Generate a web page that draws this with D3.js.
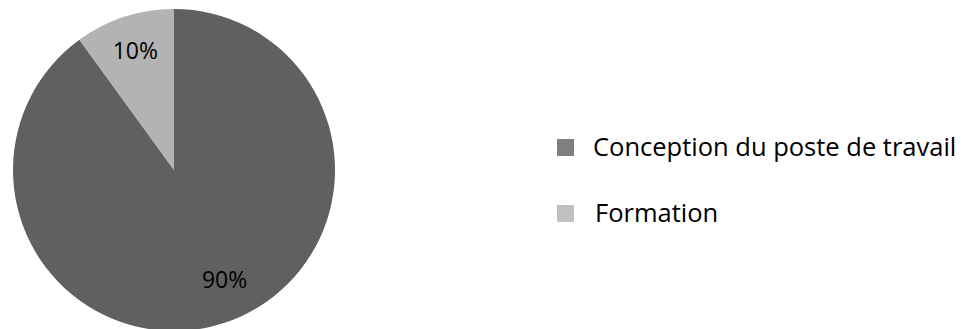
<!DOCTYPE html>
<html>
<head>
<meta charset="utf-8">
<script src="https://cdn.jsdelivr.net/npm/d3@7"></script>
<style>
  html, body { margin: 0; padding: 0; background: #fff; }
  svg { display: block; }
  text { font-family: "Open Sans", sans-serif; fill: #000; }
</style>
</head>
<body>
<svg id="chart" width="968" height="329"></svg>
<script>
// Share of measures by type
const categories = ["Conception du poste de travail", "Formation"];
const values = [90, 10];
const valueLabels = ["90%", "10%"];

const sliceColors = ["#606060", "#b3b3b3"];
const legendColors = ["#7f7f7f", "#c0c0c0"];

const svg = d3.select("#chart");
const cx = 174, cy = 170, radius = 161;

// Second slice starts at 12 o'clock and runs counter-clockwise,
// so lay the pie out clockwise starting from the first slice.
const pie = d3.pie().sort(null).value(d => d)
  .startAngle(0).endAngle(2 * Math.PI);
const arcs = pie(values);

const arc = d3.arc().innerRadius(0).outerRadius(radius);
const labelArc = d3.arc().innerRadius(125).outerRadius(125);

const g = svg.append("g").attr("transform", `translate(${cx},${cy})`);

g.selectAll("path.slice")
  .data(arcs)
  .join("path")
  .attr("class", "slice")
  .attr("d", arc)
  .attr("fill", (d, i) => sliceColors[i]);

// Per-label nudges (px) applied after the centroid placement
const labelNudge = [[12, -9], [0, 0]];

g.selectAll("text.val")
  .data(arcs)
  .join("text")
  .attr("class", "val")
  .attr("transform", (d, i) => {
    const [x, y] = labelArc.centroid(d);
    return `translate(${x + labelNudge[i][0]},${y + labelNudge[i][1]})`;
  })
  .attr("text-anchor", "middle")
  .attr("dy", "0.36em")
  .style("font-size", "23px")
  .text((d, i) => valueLabels[i]);

// Legend
const legendY = d3.scalePoint().domain(categories).range([147, 213]);
const legend = svg.append("g");
const items = legend.selectAll("g")
  .data(categories)
  .join("g")
  .attr("transform", d => `translate(557,${legendY(d)})`);

items.append("rect")
  .attr("x", 0).attr("y", -8)
  .attr("width", 17).attr("height", 17)
  .attr("fill", (d, i) => legendColors[i]);

items.append("text")
  .attr("x", (d, i) => i === 0 ? 36 : 38)
  .attr("y", 0)
  .attr("dy", "0.36em")
  .style("font-size", "25.5px")
  .text(d => d);
</script>
</body>
</html>
